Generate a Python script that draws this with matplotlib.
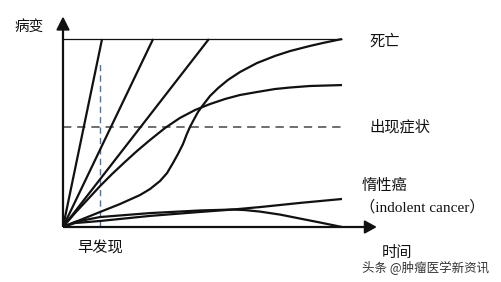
import matplotlib
matplotlib.use("Agg")
import matplotlib.pyplot as plt
from matplotlib.patches import Polygon

plt.rcParams['font.family'] = ['Noto Sans CJK SC', 'DejaVu Sans']

# ---- data (time 0..100, lesion 0..100 where 100 = death) ----
death_level = 100
symptom_level = 53.2
early_detect_x = 13.3
early_detect_top = 87.2

fast_end_x = [14.0, 32.3, 52.3]  # straight lines reaching death

sig_x = [0, 6.1, 13.3, 20.4, 27.6, 31.2, 34.8, 37.3, 39.4, 41.2, 43.0, 44.4, 45.5, 47.0,
         48.4, 50.2, 52.7, 55.6, 59.1, 63.4, 69.5, 76.0, 81.4, 88.5, 93.2, 100]
sig_y = [0, 3.7, 8.0, 12.2, 17.0, 20.2, 24.5, 28.7, 34.0, 38.8, 44.1, 49.5, 53.2, 57.4,
         61.2, 64.9, 69.7, 73.9, 78.2, 82.4, 87.2, 91.0, 93.6, 96.3, 97.9, 100]

sat_x = [0, 4.3, 9.0, 13.3, 17.6, 22.2, 26.5, 31.2, 36.6, 41.9, 47.3, 52.7, 58.1, 63.4,
         69.5, 76.0, 81.4, 88.5, 100]
sat_y = [0, 7.4, 14.9, 21.8, 28.2, 34.6, 40.4, 46.3, 52.7, 58.0, 62.2, 65.4, 68.1, 70.2,
         71.8, 73.4, 74.2, 75.0, 75.5]

indA_x = [0, 4.3, 13.3, 31.2, 49.1, 60.9, 70.6, 84.9, 100]
indA_y = [0, 2.1, 3.2, 5.9, 8.0, 9.3, 10.6, 12.8, 14.9]

indB_x = [0, 4.3, 13.3, 31.2, 49.1, 60.9, 65.2, 70.6, 77.8, 84.9, 92.1, 100]
indB_y = [0, 2.7, 5.3, 7.4, 8.8, 9.3, 9.0, 8.2, 6.6, 4.5, 2.4, 0]

x_max = 112
y_max = 111.2

W, H = 502, 282
fig = plt.figure(figsize=(W / 100, H / 100), dpi=100)
# axes: data x 0 -> px 63, 100 -> px 342 ; y 0 -> px 227, 100 -> px 39
ax_left, ax_right = 63, 63 + x_max * 2.79
ax_bottom, ax_top = 227, 227 - y_max * 1.88
ax = fig.add_axes([ax_left / W, 1 - ax_bottom / H, (ax_right - ax_left) / W, (ax_bottom - ax_top) / H])
ax.set_xlim(0, x_max)
ax.set_ylim(0, y_max)
ax.axis('off')

lc = '#111111'
kw = dict(color=lc, lw=1.6, solid_joinstyle='round', solid_capstyle='butt')
# death level line
ax.plot([0, 100], [death_level, death_level], color=lc, lw=0.9, solid_capstyle='butt')
# symptoms dashed
ax.plot([0, 100], [symptom_level, symptom_level], color='#555555', lw=1.2, dashes=(5, 3.5))
# early detection blue dashed
ax.plot([early_detect_x, early_detect_x], [0, early_detect_top], color='#4a74b0', lw=1.0, dashes=(4.5, 3))

for xe in fast_end_x:
    ax.plot([0, xe], [0, death_level], **kw)
ax.plot(sig_x, sig_y, **kw)
ax.plot(sat_x, sat_y, **kw)
ax.plot(indA_x, indA_y, **kw)
ax.plot(indB_x, indB_y, **kw)

# axes with arrows
ax.plot([0, 0], [0, y_max - 6], color=lc, lw=1.6, clip_on=False, solid_capstyle='butt')
ax.plot([0, x_max - 4], [0, 0], color=lc, lw=1.6, clip_on=False, solid_capstyle='butt')
dx = 1 / 2.79
dy = 1 / 1.88
ax.add_patch(Polygon([[0, y_max], [-6 * dx, y_max - 12 * dy], [6 * dx, y_max - 12 * dy]],
                     closed=True, color=lc, clip_on=False))
ax.add_patch(Polygon([[x_max, 0], [x_max - 11 * dx, 6 * dy], [x_max - 11 * dx, -6 * dy]],
                     closed=True, color=lc, clip_on=False))

def ftext(px, py, s, size, **kw):
    fig.text(px / W, 1 - py / H, s, fontsize=size, va='center', **kw)

ftext(15, 27, '病变', 10.5, ha='left', color='#111111')
ftext(369, 41, '死亡', 11, ha='left', color='#111111')
ftext(369, 127, '出现症状', 11, ha='left', color='#111111')
ftext(362, 185, '惰性癌', 11, ha='left', color='#111111')
ftext(360, 207, '（indolent cancer）', 11, ha='left', color='#111111',
      family=['Liberation Serif', 'Noto Sans CJK SC'])
ftext(382, 253, '时间', 11, ha='left', color='#111111')
ftext(77, 248, '早发现', 11, ha='left', color='#111111')
ftext(362, 268, '头条 @肿瘤医学新资讯', 9, ha='left', color='#333333')

fig.savefig('out.png', dpi=100, facecolor='white')
